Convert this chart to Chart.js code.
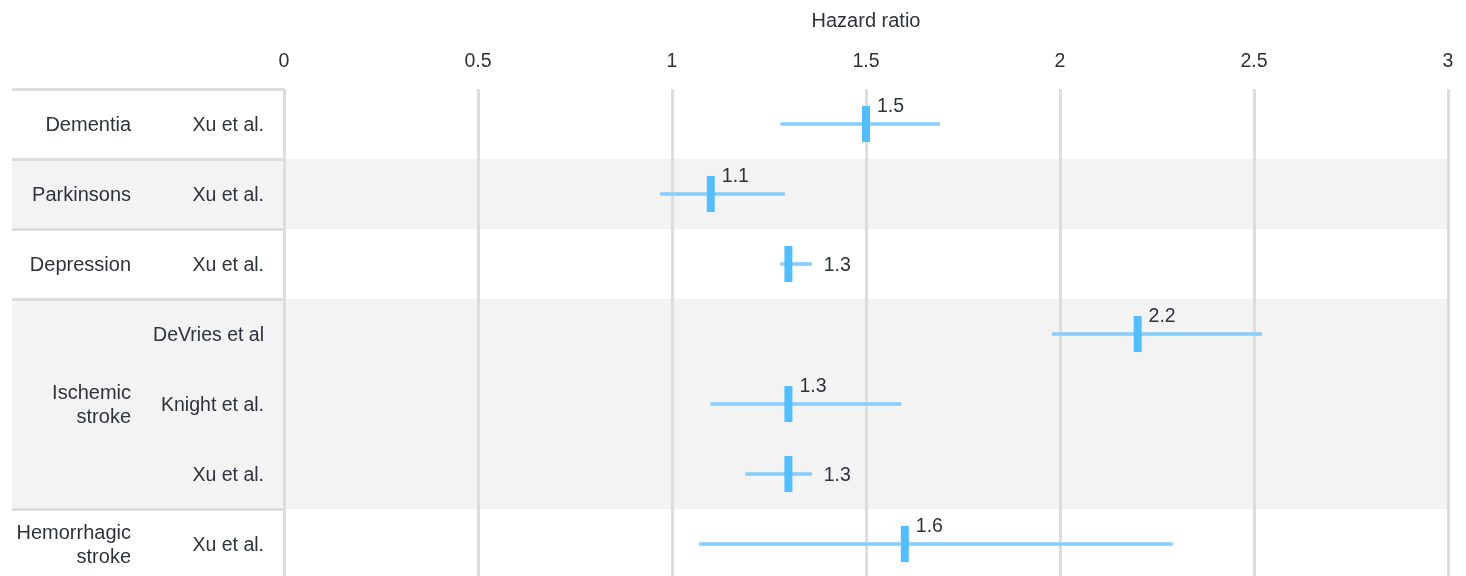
<!DOCTYPE html>
<html lang="en">
<head>
<meta charset="utf-8">
<title>Hazard ratio</title>
<script src="https://cdn.jsdelivr.net/npm/chart.js@4.4.0/dist/chart.umd.min.js"></script>
<style>
    html, body { margin: 0; padding: 0; background: #ffffff; overflow: hidden; }
    canvas { display: block; }
</style>
</head>
<body>
<canvas id="graficoForest" width="1466" height="579"></canvas>
<script>
// dados do forest plot
const grupos = [['Dementia'], ['Parkinsons'], ['Depression'], ['Ischemic', 'stroke'], ['Hemorrhagic', 'stroke']];
const linhasPorGrupo = [1, 1, 1, 3, 1];
const estudos = ['Xu et al.', 'Xu et al.', 'Xu et al.', 'DeVries et al', 'Knight et al.', 'Xu et al.', 'Xu et al.'];
const hazardRatio = [1.5, 1.1, 1.3, 2.2, 1.3, 1.3, 1.6];
const icInferior = [1.28, 0.97, 1.28, 1.98, 1.10, 1.19, 1.07];
const icSuperior = [1.69, 1.29, 1.36, 2.52, 1.59, 1.36, 2.29];

const corTexto = '#2e333b';
const corGrade = '#dddddd';
const fonte = "'Liberation Sans', Arial, sans-serif";

// --- faixas cinzas e coluna de grupos à esquerda ---
const tabelaGrupos = {
    id: 'tabelaGrupos',
    beforeDraw(chart) {
        const ctx = chart.ctx;
        const y = chart.scales.y;
        const area = chart.chartArea;
        const meiaLinha = (y.getPixelForValue(1) - y.getPixelForValue(0)) / 2;

        let inicio = 0;
        ctx.save();
        linhasPorGrupo.forEach((qtd, g) => {
            const topo = y.getPixelForValue(inicio) - meiaLinha;
            const base = y.getPixelForValue(inicio + qtd - 1) + meiaLinha;
            if (g % 2 === 1) {
                ctx.fillStyle = '#f3f3f3';
                ctx.fillRect(12, topo, area.right - 12, base - topo);
            }
            inicio += qtd;
        });
        ctx.restore();
    },
    afterDraw(chart) {
        const ctx = chart.ctx;
        const y = chart.scales.y;
        const area = chart.chartArea;
        const meiaLinha = (y.getPixelForValue(1) - y.getPixelForValue(0)) / 2;

        let inicio = 0;
        ctx.save();
        linhasPorGrupo.forEach((qtd, g) => {
            const topo = y.getPixelForValue(inicio) - meiaLinha;
            const base = y.getPixelForValue(inicio + qtd - 1) + meiaLinha;

            ctx.strokeStyle = corGrade;
            ctx.lineWidth = 3;
            ctx.beginPath();
            ctx.moveTo(12, Math.round(topo) + 0.5);
            ctx.lineTo(area.left, Math.round(topo) + 0.5);
            ctx.stroke();

            const linhas = grupos[g];
            const centro = (topo + base) / 2 + 1;
            ctx.fillStyle = corTexto;
            ctx.font = `20px ${fonte}`;
            ctx.textAlign = 'right';
            ctx.textBaseline = 'middle';
            linhas.forEach((txt, k) => {
                ctx.fillText(txt, 131, centro + (k - (linhas.length - 1) / 2) * 24);
            });
            inicio += qtd;
        });
        ctx.restore();
    }
};

// --- rótulo com o valor do HR ---
const rotulosHR = {
    id: 'rotulosHR',
    afterDatasetsDraw(chart) {
        const ctx = chart.ctx;
        const x = chart.scales.x;
        const y = chart.scales.y;

        ctx.save();
        ctx.fillStyle = corTexto;
        ctx.font = `19.5px ${fonte}`;
        ctx.textAlign = 'left';
        ctx.textBaseline = 'middle';
        hazardRatio.forEach((v, i) => {
            const px = x.getPixelForValue(v);
            const py = y.getPixelForValue(i);
            const fim = x.getPixelForValue(icSuperior[i]);
            const texto = v.toFixed(1);
            // intervalo curto: valor ao lado do IC; senão, acima do marcador
            if (fim - px < 40) {
                ctx.fillText(texto, fim + 12, py + 2);
            } else {
                ctx.fillText(texto, px + 11, py - 17);
            }
        });
        ctx.restore();
    }
};

const ctx = document.getElementById('graficoForest');

new Chart(ctx, {
    type: 'bar',
    data: {
        labels: estudos,
        datasets: [
            {
                type: 'line',
                indexAxis: 'y',
                data: hazardRatio,
                showLine: false,
                pointStyle: 'line',
                rotation: 90,
                radius: 18,
                borderWidth: 8,
                borderColor: '#52bdff',
                backgroundColor: '#52bdff',
                order: 0
            },
            {
                type: 'bar',
                indexAxis: 'y',
                data: estudos.map((_, i) => [icInferior[i], icSuperior[i]]),
                backgroundColor: '#86ccff',
                barThickness: 3,
                borderWidth: 0,
                borderSkipped: false,
                order: 1
            }
        ]
    },
    options: {
        indexAxis: 'y',
        responsive: false,
        animation: false,
        events: [],
        layout: { autoPadding: false, padding: { left: 0, right: 18, top: 0, bottom: 0 } },
        plugins: {
            legend: { display: false },
            tooltip: { enabled: false }
        },
        scales: {
            x: {
                type: 'linear',
                position: 'top',
                min: 0,
                max: 3,
                afterFit(scale) {
                    // altura fixa do cabeçalho, sem folga extra para o último rótulo
                    scale.height = 89;
                    scale.paddingLeft = 0;
                    scale.paddingRight = 0;
                },
                ticks: {
                    stepSize: 0.5,
                    padding: 16,
                    color: corTexto,
                    font: { family: fonte, size: 19.5 },
                    callback: v => v.toString()
                },
                grid: { color: corGrade, lineWidth: 3, drawTicks: false },
                border: { display: false },
                title: {
                    display: true,
                    text: 'Hazard ratio',
                    color: corTexto,
                    font: { family: fonte, size: 20 },
                    padding: { top: 9, bottom: 0 }
                }
            },
            y: {
                type: 'category',
                offset: true,
                afterFit(scale) {
                    scale.width = 284;
                    scale.paddingTop = 0;
                    scale.paddingBottom = 0;
                },
                ticks: {
                    autoSkip: false,
                    padding: 20,
                    labelOffset: 2,
                    color: corTexto,
                    font: { family: fonte, size: 19.5 }
                },
                grid: { display: false, drawTicks: false },
                border: { display: false }
            }
        }
    },
    plugins: [tabelaGrupos, rotulosHR]
});
</script>
</body>
</html>
